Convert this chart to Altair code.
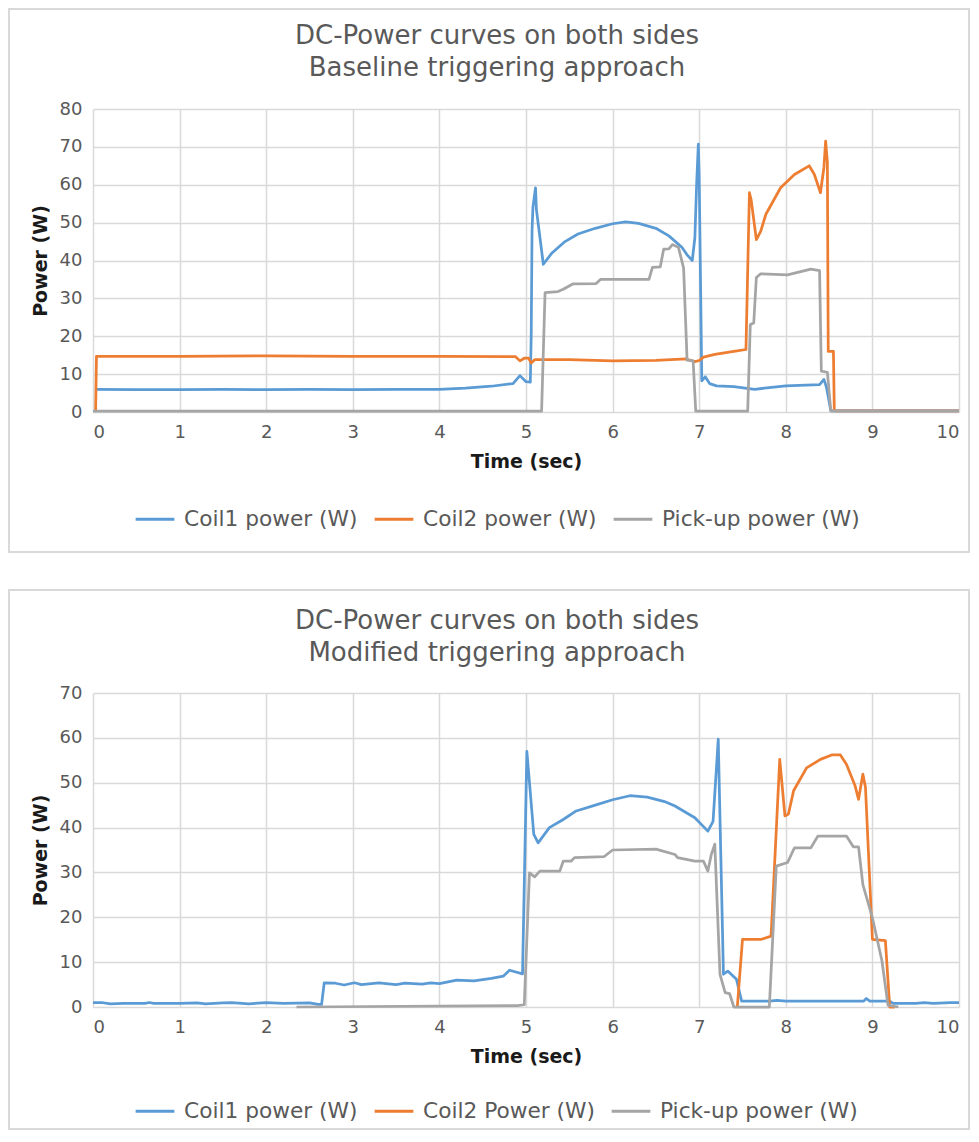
import altair as alt
import pandas as pd

FONT = "DejaVu Sans"
BLUE, ORANGE, GRAY = "#5B9BD5", "#ED7D31", "#A5A5A5"
TXT = "#595959"

# ---------------- Panel 1 : baseline triggering ----------------
p1_title = ["DC-Power curves on both sides", "Baseline triggering approach"]
p1_series = ["Coil1 power (W)", "Coil2 power (W)", "Pick-up power (W)"]

p1_coil1_t = [0.03, 0.5, 1.0, 1.5, 2.0, 2.5, 3.0, 3.5, 4.0, 4.3, 4.6, 4.85, 4.93,
              5.0, 5.05, 5.06, 5.07, 5.08, 5.11, 5.12, 5.20, 5.30, 5.45, 5.6,
              5.8, 6.0, 6.15, 6.3, 6.5, 6.65, 6.8, 6.86, 6.92, 6.95, 6.97, 6.99,
              7.0, 7.03, 7.07, 7.12, 7.2, 7.4, 7.64, 8.0, 8.39, 8.44, 8.47,
              8.52, 9.0, 10.0]
p1_coil1_v = [6.0, 5.9, 5.9, 6.0, 5.9, 6.0, 5.9, 6.0, 6.0, 6.3, 6.8, 7.5, 9.6,
              8.0, 7.9, 20.0, 48.0, 54.0, 59.2, 53.5, 39.0, 42.0, 45.0, 47.0,
              48.5, 49.7, 50.2, 49.8, 48.5, 46.5, 43.5, 41.5, 40.0, 46.0, 60.0,
              70.7, 62.0, 8.2, 9.3, 7.5, 6.9, 6.7, 6.0, 6.9, 7.2, 8.6, 6.5,
              0.3, 0.3, 0.3]

p1_coil2_t = [0.03, 0.04, 1.0, 2.0, 3.0, 4.0, 4.88, 4.93, 4.98, 5.03, 5.06,
              5.10, 5.5, 6.0, 6.5, 6.85, 6.95, 7.0, 7.05, 7.18, 7.4, 7.54,
              7.58, 7.60, 7.66, 7.71, 7.77, 7.94, 8.1, 8.27, 8.33, 8.4, 8.44,
              8.46, 8.48, 8.49, 8.55, 8.56, 10.0]
p1_coil2_v = [0.0, 14.7, 14.7, 14.8, 14.7, 14.7, 14.6, 13.5, 14.2, 14.2, 12.9,
              13.8, 13.8, 13.5, 13.6, 14.0, 13.3, 13.6, 14.5, 15.2, 16.0, 16.5,
              57.9, 56.0, 45.5, 47.7, 52.2, 59.2, 62.7, 65.0, 62.7, 57.9, 64.5,
              71.5, 66.0, 16.0, 16.0, 0.3, 0.3]

p1_pick_t = [0.0, 5.18, 5.22, 5.37, 5.43, 5.54, 5.81, 5.86, 6.42, 6.46, 6.55,
             6.59, 6.65, 6.69, 6.76, 6.82, 6.86, 6.93, 6.96, 7.56, 7.59, 7.63,
             7.66, 7.71, 8.02, 8.29, 8.39, 8.41, 8.48, 8.52, 10.0]
p1_pick_v = [0.2, 0.2, 31.5, 31.8, 32.4, 33.8, 33.9, 35.0, 35.0, 38.2, 38.3,
             43.0, 43.1, 44.2, 43.5, 38.0, 13.7, 13.5, 0.2, 0.2, 23.1, 23.5,
             35.5, 36.5, 36.2, 37.7, 37.3, 10.8, 10.5, 0.3, 0.3]

# ---------------- Panel 2 : modified triggering ----------------
p2_title = ["DC-Power curves on both sides", "Modified triggering approach"]
p2_series = ["Coil1 power (W)", "Coil2 Power (W)", "Pick-up power (W)"]

p2_coil1_t = [0.0, 0.1, 0.2, 0.35, 0.6, 0.65, 0.7, 1.0, 1.2, 1.3, 1.5, 1.6, 1.8,
              2.0, 2.2, 2.5, 2.6, 2.64, 2.67, 2.8, 2.9, 3.02, 3.1, 3.3, 3.5,
              3.6, 3.8, 3.9, 4.0, 4.2, 4.4, 4.6, 4.74, 4.81, 4.96, 5.01, 5.09,
              5.14, 5.27, 5.43, 5.58, 5.8, 6.0, 6.2, 6.4, 6.6, 6.72, 6.95, 7.1,
              7.16, 7.22, 7.28, 7.33, 7.43, 7.49, 7.81, 7.9, 8.0, 8.9, 8.93,
              8.97, 9.2, 9.24, 9.5, 9.6, 9.7, 9.9, 10.0]
p2_coil1_v = [1.0, 1.0, 0.7, 0.8, 0.8, 1.0, 0.8, 0.8, 0.9, 0.7, 0.9, 1.0, 0.7,
              1.0, 0.8, 0.9, 0.6, 0.6, 5.4, 5.3, 4.9, 5.4, 5.0, 5.4, 5.0,
              5.3, 5.1, 5.4, 5.2, 6.0, 5.8, 6.4, 6.9, 8.2, 7.4, 57.0, 38.5,
              36.6, 40.0, 41.8, 43.7, 45.0, 46.2, 47.1, 46.8, 45.8, 44.8, 42.2,
              39.2, 41.4, 59.7, 7.3, 8.0, 6.2, 1.3, 1.3, 1.5, 1.3, 1.3, 1.9,
              1.3, 1.3, 0.8, 0.8, 1.0, 0.8, 1.0, 1.0]

p2_coil2_t = [7.44, 7.5, 7.72, 7.83, 7.93, 7.99, 8.03, 8.09, 8.24, 8.4,
              8.53, 8.63, 8.7, 8.8, 8.84, 8.89, 8.92, 9.0, 9.15, 9.2, 9.26]
p2_coil2_v = [0.0, 15.1, 15.1, 15.8, 55.2, 42.6, 43.0, 48.2, 53.3, 55.2,
              56.2, 56.2, 54.1, 49.3, 46.3, 51.9, 49.0, 15.1, 14.8, 0.0, 0.0]

p2_pick_t = [2.35, 4.9, 4.98, 5.04, 5.1, 5.16, 5.39, 5.43, 5.52, 5.56, 5.9, 6.0,
             6.5, 6.72, 6.75, 6.95, 7.05, 7.1, 7.14, 7.18, 7.24, 7.3, 7.35,
             7.4, 7.81, 7.89, 8.02, 8.1, 8.29, 8.37, 8.7, 8.78, 8.84, 8.89,
             9.0, 9.11, 9.18, 9.3]
p2_pick_v = [0.0, 0.3, 0.5, 29.9, 29.0, 30.3, 30.3, 32.5, 32.5, 33.3, 33.5,
             35.0, 35.2, 34.0, 33.3, 32.5, 32.5, 30.3, 34.0, 36.3, 7.3, 3.2,
             3.0, 0.0, 0.0, 31.4, 32.2, 35.5, 35.5, 38.1, 38.1, 35.7, 35.7,
             27.3, 19.9, 10.3, 0.4, 0.0]

x_ticks = list(range(0, 11))

PLOT_W = 866


def build_df(series, parts):
    frames = []
    for name, (ts, vs) in zip(series, parts):
        frames.append(pd.DataFrame({"t": ts, "v": vs, "s": name}))
    return pd.concat(frames, ignore_index=True)


def panel(df, series, title, ymax, height, legend_y, frame_top, frame_bottom, title_y):
    one = pd.DataFrame({"k": [0]})
    frame = alt.Chart(one).mark_rect(
        fillOpacity=0, stroke="#D9D9D9", strokeWidth=2
    ).encode(
        x=alt.value(-84), x2=alt.value(PLOT_W + 10),
        y=alt.value(frame_top), y2=alt.value(frame_bottom),
    )
    t1 = alt.Chart(one).mark_text(
        font=FONT, fontSize=26, color=TXT, align="center", baseline="middle"
    ).encode(x=alt.value(404), y=alt.value(title_y), text=alt.value(title[0]))
    t2 = alt.Chart(one).mark_text(
        font=FONT, fontSize=26, color=TXT, align="center", baseline="middle"
    ).encode(x=alt.value(404), y=alt.value(title_y + 32), text=alt.value(title[1]))

    lines = alt.Chart(df).mark_line(strokeWidth=2.75, strokeJoin="round").encode(
        x=alt.X("t:Q", scale=alt.Scale(domain=[0, 10], nice=False),
                axis=alt.Axis(values=x_ticks, title="Time (sec)", format="d")),
        y=alt.Y("v:Q", scale=alt.Scale(domain=[0, ymax], nice=False),
                axis=alt.Axis(values=list(range(0, ymax + 1, 10)), title="Power (W)")),
        color=alt.Color(
            "s:N",
            scale=alt.Scale(domain=series, range=[BLUE, ORANGE, GRAY]),
            legend=alt.Legend(
                title=None, orient="none", legendX=41, legendY=legend_y,
                direction="horizontal", symbolType="stroke", symbolSize=1500,
                symbolStrokeWidth=3, labelFontSize=21.7, labelFont=FONT,
                labelColor=TXT, labelOffset=8, columnPadding=10,
                labelLimit=400,
            ),
        ),
        detail="s:N",
    )
    return alt.layer(frame, t1, t2, lines).properties(width=PLOT_W, height=height)


df1 = build_df(p1_series, [(p1_coil1_t, p1_coil1_v), (p1_coil2_t, p1_coil2_v),
                           (p1_pick_t, p1_pick_v)])
df2 = build_df(p2_series, [(p2_coil1_t, p2_coil1_v), (p2_coil2_t, p2_coil2_v),
                           (p2_pick_t, p2_pick_v)])

top = panel(df1, p1_series, p1_title, 80, 303, 389, -100, 443, -73)
bottom = panel(df2, p2_series, p2_title, 70, 314, 397, -103, 436, -72)

chart = alt.vconcat(top, bottom, spacing=36).resolve_scale(
    color="independent", x="independent", y="independent"
).properties(
    padding=0, background="white"
).configure(font=FONT).configure_view(stroke=None).configure_axis(
    gridColor="#D9D9D9", gridWidth=1.5, domain=False, ticks=False,
    labelFont=FONT, labelFontSize=18, labelColor=TXT, labelPadding=11,
    titleFont=FONT, titleFontSize=19, titleFontWeight="bold", titleColor="#1A1A1A",
).configure_axisX(titlePadding=11).configure_axisY(titlePadding=9)

chart.save("out.html", embed_options={"renderer": "svg", "actions": False})
